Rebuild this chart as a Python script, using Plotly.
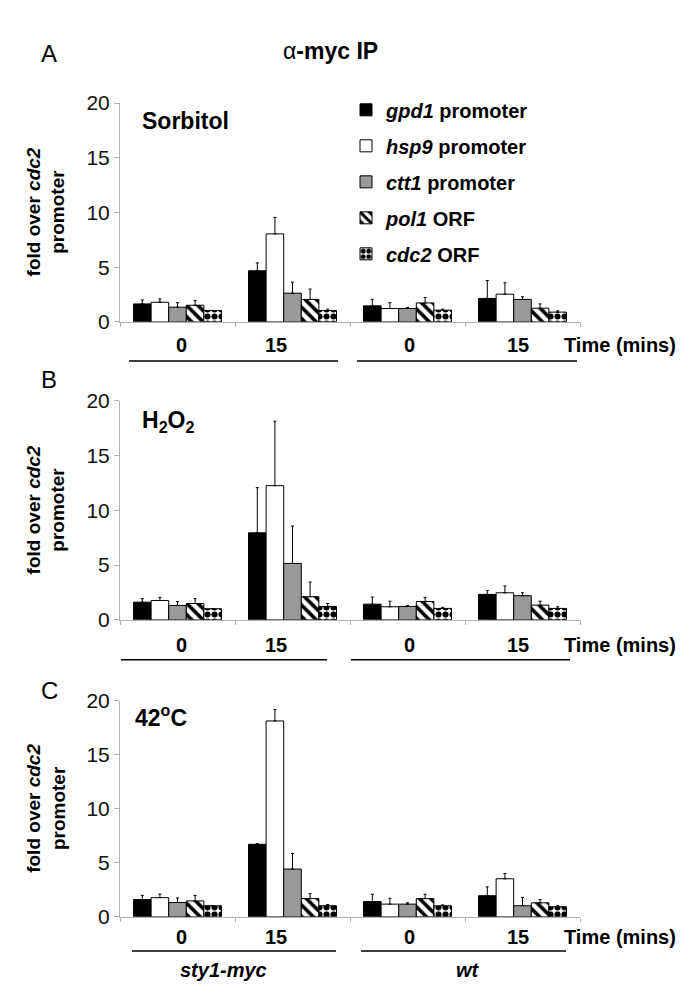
import plotly.graph_objects as go

W, H = 694, 994

groups = ["sty1-myc 0", "sty1-myc 15", "wt 0", "wt 15"]
time_labels = ["0", "15", "0", "15"]
strains = ["sty1-myc", "wt"]
targets = ["<i>gpd1</i> promoter", "<i>hsp9</i> promoter", "<i>ctt1</i> promoter",
           "<i>pol1</i> ORF", "<i>cdc2</i> ORF"]
stresses = ["Sorbitol", "H<sub>2</sub>O<sub>2</sub>", "42<sup>o</sup>C"]
panel_letters = ["A", "B", "C"]

# fold over cdc2 promoter (mean, +error), order: gpd1, hsp9, ctt1, pol1, cdc2
sorb_vals = [
    [1.64, 4.67, 1.46, 2.14],
    [1.79, 8.04, 1.22, 2.53],
    [1.34, 2.62, 1.22, 2.05],
    [1.52, 2.05, 1.73, 1.25],
    [1.04, 1.04, 1.07, 0.89],
]
sorb_err = [
    [0.36, 0.72, 0.59, 1.64],
    [0.31, 1.51, 0.53, 1.04],
    [0.41, 1.01, 0.09, 0.24],
    [0.44, 0.95, 0.50, 0.39],
    [0.00, 0.12, 0.09, 0.12],
]
h2o2_vals = [
    [1.61, 7.95, 1.43, 2.32],
    [1.76, 12.26, 1.19, 2.47],
    [1.31, 5.15, 1.22, 2.20],
    [1.49, 2.11, 1.67, 1.34],
    [1.01, 1.22, 1.04, 1.04],
]
h2o2_err = [
    [0.32, 4.13, 0.65, 0.36],
    [0.29, 5.89, 0.51, 0.63],
    [0.36, 3.42, 0.09, 0.27],
    [0.44, 1.34, 0.38, 0.36],
    [0.00, 0.27, 0.10, 0.15],
]
heat_vals = [
    [1.59, 6.71, 1.41, 1.95],
    [1.77, 18.14, 1.17, 3.52],
    [1.32, 4.42, 1.17, 1.02],
    [1.47, 1.68, 1.68, 1.29],
    [1.02, 1.02, 1.02, 0.93],
]
heat_err = [
    [0.39, 0.06, 0.67, 0.82],
    [0.33, 1.05, 0.54, 0.48],
    [0.42, 1.44, 0.12, 0.78],
    [0.51, 0.46, 0.40, 0.30],
    [0.00, 0.12, 0.08, 0.12],
]
panels = [(sorb_vals, sorb_err), (h2o2_vals, h2o2_err), (heat_vals, heat_err)]

FONT = "Arial, Liberation Sans, sans-serif"
GRAY_AX = "#b0b0b0"

# bar styles per target
styles = [
    dict(color="#000000"),
    dict(color="#ffffff"),
    dict(color="#999999"),
    dict(color="#ffffff", pattern=dict(shape="\\", fgcolor="#000000", bgcolor="#ffffff",
                                       size=8, solidity=0.45, fillmode="replace")),
    dict(color="#ffffff", pattern=dict(shape=".", fgcolor="#000000", bgcolor="#ffffff",
                                       size=7, solidity=0.6, fillmode="replace")),
]


def px2x(px):
    return px / W


def px2y(py):
    return 1 - py / H


def note(text, x, y, size, xanchor="center", angle=0):
    return dict(text=text, x=px2x(x), y=px2y(y), xref="paper", yref="paper",
                xanchor=xanchor, yanchor="middle", textangle=angle, showarrow=False,
                font=dict(size=size, family=FONT, color="#000000"))


# plot areas in pixels (top, bottom)
x_left, x_right = 112, 572
panel_tb = [(85, 309), (390, 614), (697, 918)]
label_y = [333, 640, 939]
line_y = [349, 655, 953]
lines_x = [[(121, 330), (349, 569)], [(113, 319), (343, 562)], [(124, 328), (353, 558)]]
label_x = [173, 268, 401, 510]
letter_y = [34, 368, 686]
stress_pos = [(132, 103), (132, 411), (125, 712)]

fig = go.Figure()

for p, (vals, errs) in enumerate(panels):
    ax = "" if p == 0 else str(p + 1)
    for t in range(len(targets)):
        fig.add_trace(go.Bar(
            x=groups, y=vals[t],
            name="<b>" + targets[t] + "</b>",
            legendgroup=str(t),
            showlegend=(p == 0),
            marker=dict(line=dict(color="#000000", width=1), **styles[t]),
            error_y=dict(type="data", array=errs[t], arrayminus=[0] * 4, symmetric=False,
                         color="#000000", thickness=1, width=1.5),
            xaxis="x" + ax, yaxis="y" + ax,
        ))

layout = dict(
    width=W, height=H, autosize=False,
    margin=dict(l=0, r=0, t=0, b=0),
    paper_bgcolor="white", plot_bgcolor="white",
    barmode="group", bargap=0.235, bargroupgap=0,
    font=dict(family=FONT, color="#000000"),
    legend=dict(x=px2x(338), y=px2y(72), xanchor="left", yanchor="top",
                font=dict(size=20, family=FONT), tracegroupgap=7,
                bgcolor="rgba(0,0,0,0)"),
)

annotations = []
shapes = []
for p, (top, bot) in enumerate(panel_tb):
    ax = "" if p == 0 else str(p + 1)
    layout["xaxis" + ax] = dict(
        domain=[px2x(x_left), px2x(x_right)], anchor="y" + ax,
        type="category", showline=True, linecolor=GRAY_AX, linewidth=1,
        ticks="outside", tickson="boundaries", ticklen=4, tickcolor=GRAY_AX,
        showticklabels=False, showgrid=False, zeroline=False, fixedrange=True,
    )
    layout["yaxis" + ax] = dict(
        domain=[px2y(bot), px2y(top)], anchor="x" + ax,
        range=[0, 20], tickvals=[0, 5, 10, 15, 20],
        showline=True, linecolor=GRAY_AX, linewidth=1,
        ticks="outside", ticklen=5, tickcolor=GRAY_AX,
        tickfont=dict(size=21, family=FONT, color="#111111"),
        showgrid=False, zeroline=False, fixedrange=True,
    )
    annotations.append(note(panel_letters[p], 41, letter_y[p], 24))
    sx, sy = stress_pos[p]
    annotations.append(note("<b>" + stresses[p] + "</b>", sx, sy, 23, xanchor="left"))
    annotations.append(note("<b>fold over <i>cdc2</i><br>promoter</b>", 38, (top + bot) / 2,
                            19, angle=-90))
    for k, lab in enumerate(time_labels):
        annotations.append(note("<b>" + lab + "</b>", label_x[k], label_y[p], 20))
    annotations.append(note("<b>Time (mins)</b>", 554, label_y[p], 20, xanchor="left"))
    for (x0, x1) in lines_x[p]:
        shapes.append(dict(type="line", xref="paper", yref="paper",
                           x0=px2x(x0), x1=px2x(x1), y0=px2y(line_y[p]), y1=px2y(line_y[p]),
                           line=dict(color="#000000", width=1.5)))

# header and strain labels
annotations.append(note("\u03b1<b>-myc IP</b>", 322, 32, 23))
for s, cx in zip(strains, [215, 460]):
    annotations.append(note("<b><i>" + s + "</i></b>", cx, 973, 20))

layout["annotations"] = annotations
layout["shapes"] = shapes
fig.update_layout(**layout)

fig.write_html("out.html")
